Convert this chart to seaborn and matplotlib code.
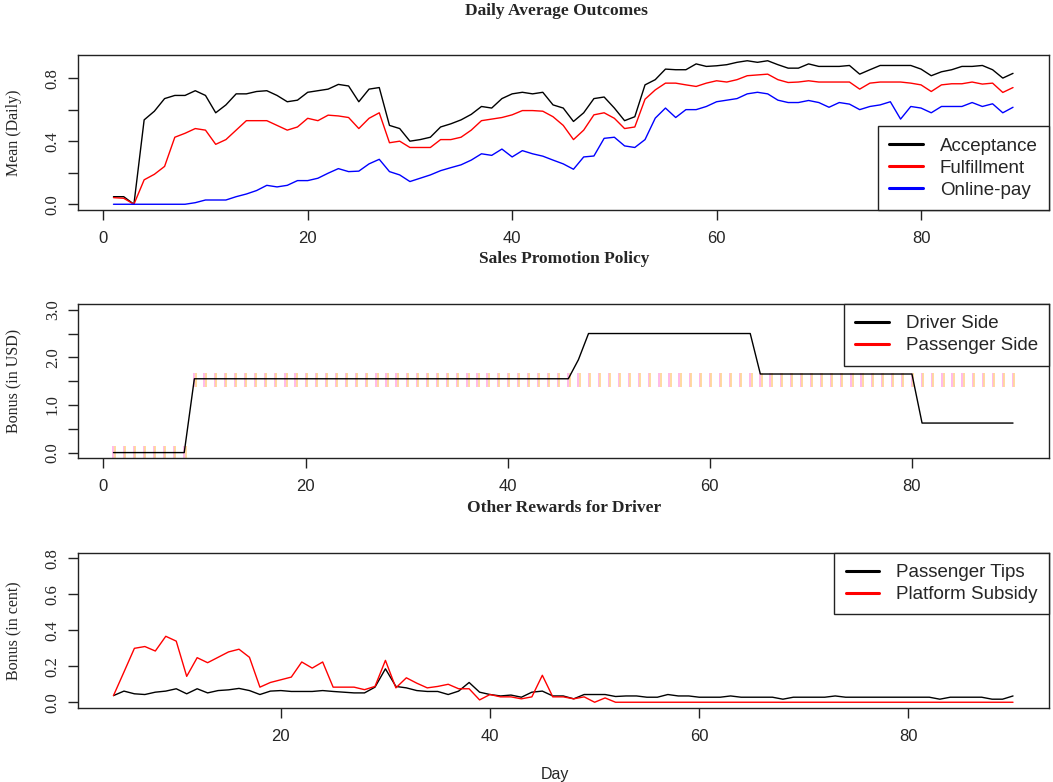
import numpy as np
import seaborn as sns
import matplotlib.pyplot as plt
from matplotlib.lines import Line2D
from matplotlib.transforms import ScaledTranslation

sns.set_style("white")
plt.rcParams['font.family'] = ['Liberation Serif', 'DejaVu Serif']

# ---- data ----
days_top = list(range(1, 90))
acceptance = [0.048, 0.048, 0.0, 0.535, 0.59, 0.67, 0.69, 0.69, 0.72, 0.69,
              0.58, 0.63, 0.70, 0.70, 0.715, 0.72, 0.69, 0.65, 0.66, 0.71,
              0.72, 0.73, 0.76, 0.75, 0.65, 0.73, 0.74, 0.50, 0.48, 0.40,
              0.41, 0.425, 0.49, 0.51, 0.535, 0.57, 0.62, 0.61, 0.67, 0.70,
              0.71, 0.70, 0.71, 0.63, 0.61, 0.525, 0.58, 0.67, 0.68, 0.61,
              0.53, 0.555, 0.757, 0.79, 0.857, 0.853, 0.853, 0.89, 0.874, 0.878,
              0.885, 0.90, 0.91, 0.90, 0.91, 0.885, 0.863, 0.863, 0.89, 0.874,
              0.874, 0.874, 0.88, 0.825, 0.853, 0.88, 0.88, 0.88, 0.88, 0.857,
              0.815, 0.84, 0.853, 0.874, 0.874, 0.88, 0.853, 0.80, 0.83]
fulfillment = [0.042, 0.038, 0.0, 0.155, 0.19, 0.24, 0.425, 0.45, 0.48, 0.47,
               0.38, 0.41, 0.47, 0.53, 0.53, 0.53, 0.50, 0.47, 0.49, 0.545,
               0.53, 0.565, 0.56, 0.55, 0.48, 0.545, 0.58, 0.39, 0.40, 0.36,
               0.36, 0.36, 0.41, 0.41, 0.425, 0.47, 0.53, 0.54, 0.55, 0.567,
               0.594, 0.594, 0.59, 0.555, 0.50, 0.41, 0.47, 0.567, 0.58, 0.545,
               0.48, 0.49, 0.666, 0.725, 0.768, 0.768, 0.757, 0.747, 0.768, 0.783,
               0.775, 0.79, 0.815, 0.82, 0.825, 0.79, 0.772, 0.775, 0.783, 0.775,
               0.775, 0.775, 0.775, 0.73, 0.768, 0.775, 0.775, 0.775, 0.768, 0.757,
               0.715, 0.757, 0.764, 0.764, 0.775, 0.762, 0.768, 0.709, 0.74]
online_pay = [0.0, 0.0, 0.0, 0.0, 0.0, 0.0, 0.0, 0.0, 0.01, 0.027,
              0.027, 0.027, 0.048, 0.065, 0.087, 0.12, 0.11, 0.12, 0.15, 0.15,
              0.165, 0.197, 0.226, 0.207, 0.21, 0.256, 0.285, 0.207, 0.186, 0.144,
              0.165, 0.186, 0.213, 0.232, 0.25, 0.28, 0.32, 0.31, 0.35, 0.30,
              0.34, 0.32, 0.305, 0.28, 0.256, 0.222, 0.30, 0.306, 0.418, 0.425,
              0.37, 0.36, 0.41, 0.546, 0.61, 0.55, 0.60, 0.60, 0.62, 0.65,
              0.66, 0.67, 0.70, 0.71, 0.70, 0.66, 0.645, 0.645, 0.658, 0.645,
              0.615, 0.645, 0.635, 0.60, 0.62, 0.63, 0.65, 0.54, 0.62, 0.61,
              0.58, 0.62, 0.62, 0.62, 0.645, 0.62, 0.637, 0.58, 0.615]

days_mid = list(range(1, 91))
driver_side = ([0.0] * 8 + [1.55] * 38 + [1.95] + [2.5] * 17
               + [1.65] * 16 + [0.62] * 10)
passenger_side = [0.0] * 8 + [1.53] * 82

days_bot = list(range(4, 91))
passenger_tips = [0.037, 0.062, 0.047, 0.043, 0.056, 0.062, 0.075, 0.047, 0.075, 0.052,
                  0.065, 0.069, 0.077, 0.065, 0.043, 0.062, 0.065, 0.06, 0.06, 0.06,
                  0.065, 0.06, 0.056, 0.052, 0.052, 0.084, 0.186, 0.088, 0.08, 0.065,
                  0.06, 0.06, 0.043, 0.062, 0.11, 0.056, 0.043, 0.035, 0.04, 0.028,
                  0.056, 0.062, 0.035, 0.035, 0.019, 0.043, 0.043, 0.043, 0.032, 0.035,
                  0.035, 0.028, 0.028, 0.043, 0.035, 0.035, 0.028, 0.028, 0.028, 0.035,
                  0.028, 0.028, 0.028, 0.028, 0.017, 0.028, 0.028, 0.028, 0.028, 0.035,
                  0.028, 0.028, 0.028, 0.028, 0.028, 0.028, 0.028, 0.028, 0.028, 0.017,
                  0.028, 0.028, 0.028, 0.028, 0.017, 0.017, 0.035]
platform_subsidy = [0.037, 0.168, 0.30, 0.31, 0.285, 0.367, 0.34, 0.144, 0.248, 0.22,
                    0.25, 0.28, 0.295, 0.25, 0.084, 0.11, 0.125, 0.14, 0.224, 0.19,
                    0.224, 0.084, 0.084, 0.084, 0.07, 0.088, 0.233, 0.08, 0.136, 0.106,
                    0.08, 0.088, 0.10, 0.075, 0.075, 0.013, 0.043, 0.03, 0.03, 0.019,
                    0.03, 0.15, 0.03, 0.03, 0.019, 0.03, 0.0, 0.024, 0.0, 0.0,
                    0.0, 0.0, 0.0, 0.0, 0.0, 0.0, 0.0, 0.0, 0.0, 0.0,
                    0.0, 0.0, 0.0, 0.0, 0.0, 0.0, 0.0, 0.0, 0.0, 0.0,
                    0.0, 0.0, 0.0, 0.0, 0.0, 0.0, 0.0, 0.0, 0.0, 0.0,
                    0.0, 0.0, 0.0, 0.0, 0.0, 0.0, 0.0]

SANS = ['Liberation Sans', 'DejaVu Sans']
SERIF = ['Liberation Serif', 'DejaVu Serif']
W, H = 1053, 782


def r_lim(lo, hi):
    # R style 4% padding
    pad = 0.04 * (hi - lo)
    return lo - pad, hi + pad


def style_axes(ax, ylabel, yticks, ylabels, xticks):
    for s in ax.spines.values():
        s.set_visible(True)
        s.set_color('#222222')
        s.set_linewidth(1.0)
    ax.set_xticks(xticks, labels=[str(t) for t in xticks])
    ax.set_yticks(yticks, labels=ylabels)
    ax.tick_params(axis='both', direction='out', length=7, width=1,
                   color='#222222', left=True, bottom=True)
    ax.tick_params(axis='x', pad=8)
    ax.tick_params(axis='y', pad=5, labelrotation=90)
    for lab in ax.get_xticklabels():
        lab.set_family(SANS)
        lab.set_fontsize(12)
    for lab in ax.get_yticklabels():
        lab.set_family(SERIF)
        lab.set_fontsize(12)
        lab.set_va('center')
    ax.set_xlabel('')
    ax.set_ylabel(ylabel, family=SERIF, fontsize=11.5)
    ax.yaxis.set_label_coords(-0.057, 0.5)
    ax.grid(False)


def add_legend(ax, colors, labels, loc):
    handles = [Line2D([0], [0], color=c, lw=2.2) for c in colors]
    leg = ax.legend(handles, labels, loc=loc, frameon=True, fancybox=False,
                    edgecolor='#222222', framealpha=1, borderaxespad=0,
                    prop={'family': SANS, 'size': 13.5}, handlelength=1.8,
                    handletextpad=0.9, borderpad=0.6, labelspacing=0.26)
    leg.get_frame().set_linewidth(1.0)


fig = plt.figure(figsize=(W / 100, H / 100), dpi=100)
left = 77.5 / W
width = (1049 - 77.5) / W

# ---- panel 1: daily outcomes ----
ax1 = fig.add_axes([left, 1 - 210 / H, width, 155 / H])
sns.lineplot(x=days_top, y=acceptance, color='black', lw=1.0, ax=ax1)
sns.lineplot(x=days_top, y=fulfillment, color='#ff0000', lw=1.0, ax=ax1)
sns.lineplot(x=days_top, y=online_pay, color='#0000ff', lw=1.0, ax=ax1)
ax1.set_xlim(*r_lim(min(days_top), max(days_top)))
ax1.set_ylim(*r_lim(0, max(acceptance)))
style_axes(ax1, 'Mean (Daily)', [0, 0.2, 0.4, 0.6, 0.8],
           ['0.0', '', '0.4', '', '0.8'], [0, 20, 40, 60, 80])
add_legend(ax1, ['black', '#ff0000', '#0000ff'],
           ['Acceptance', 'Fulfillment', 'Online-pay'], 'lower right')

# ---- panel 2: sales promotion ----
ax2 = fig.add_axes([left, 1 - 458.3 / H, width, 154.3 / H])
shift = ScaledTranslation(1.3 / 100, 0, fig.dpi_scale_trans)
ax2.plot(days_mid, passenger_side, ls='none', marker='|', ms=10, mew=1.3,
         color='#ffb4e8')
ax2.plot(days_mid, passenger_side, ls='none', marker='|', ms=10, mew=1.3,
         color='#ffd79a', transform=ax2.transData + shift)
sns.lineplot(x=days_mid, y=driver_side, color='black', lw=1.0, ax=ax2)
ax2.set_xlim(*r_lim(min(days_mid), max(days_mid)))
ax2.set_ylim(*r_lim(0, 3))
style_axes(ax2, 'Bonus (in USD)', [0, 0.5, 1, 1.5, 2, 2.5, 3],
           ['0.0', '', '1.0', '', '2.0', '', '3.0'], [0, 20, 40, 60, 80])
add_legend(ax2, ['black', '#ff0000'], ['Driver Side', 'Passenger Side'],
           'upper right')

# ---- panel 3: other rewards ----
ax3 = fig.add_axes([left, 1 - 708 / H, width, 155.3 / H])
sns.lineplot(x=days_bot, y=passenger_tips, color='black', lw=1.0, ax=ax3)
sns.lineplot(x=days_bot, y=platform_subsidy, color='#ff0000', lw=1.0, ax=ax3)
ax3.set_xlim(*r_lim(min(days_bot), max(days_bot)))
ax3.set_ylim(*r_lim(0, 0.8))
style_axes(ax3, 'Bonus (in cent)', [0, 0.2, 0.4, 0.6, 0.8],
           ['0.0', '0.2', '0.4', '0.6', '0.8'], [20, 40, 60, 80])
add_legend(ax3, ['black', '#ff0000'], ['Passenger Tips', 'Platform Subsidy'],
           'upper right')

# titles and bottom label
fig.text(556 / W, 1 - 11 / H, 'Daily Average Outcomes', ha='center', va='center',
         family=SERIF, fontweight='bold', fontsize=12.5)
fig.text(564 / W, 1 - 259 / H, 'Sales Promotion Policy', ha='center', va='center',
         family=SERIF, fontweight='bold', fontsize=12.5)
fig.text(564 / W, 1 - 508 / H, 'Other Rewards for Driver', ha='center', va='center',
         family=SERIF, fontweight='bold', fontsize=12.5)
fig.text(555 / W, 1 - 774 / H, 'Day', ha='center', va='center',
         family=SANS, fontsize=11.5)

fig.savefig('out.png', dpi=100)
